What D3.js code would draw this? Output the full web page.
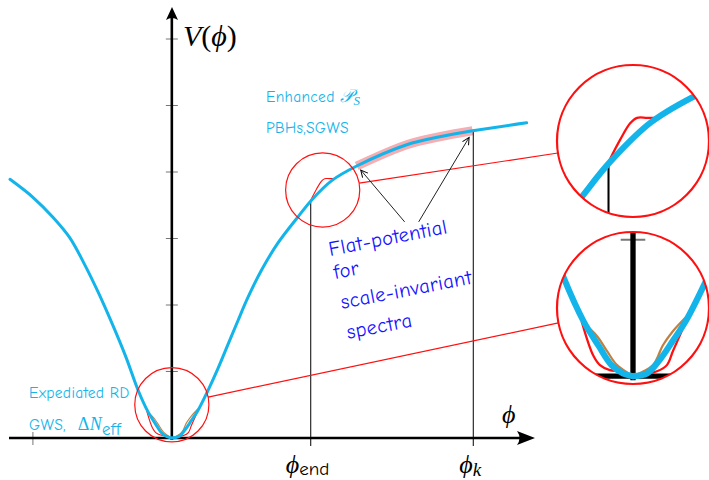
<!DOCTYPE html>
<meta charset="utf-8">
<style>
body { margin: 0; background: #fff; }
svg { display: block; }
.comic { font-family: "Comic Sans MS", "Comic Neue", "Noto Sans", sans-serif; }
.tex { font-family: "Liberation Serif", "DejaVu Serif", serif; }
</style>
<body>
<svg width="709" height="480"></svg>
<script src="https://d3js.org/d3.v7.min.js"></script>
<script>

// potential V(phi) (phi_end = 1, one y tick = 1 unit)
var leftBranch = [[-1.165,3.89],[-1.0,3.62],[-0.856,3.32],[-0.734,3.01],[-0.633,2.63],[-0.532,2.20],
  [-0.432,1.73],[-0.331,1.22],[-0.245,0.73],[-0.173,0.40],[-0.12,0.22],[-0.075,0.08],[-0.035,0.02],[0,0]];
var rightBranch = [[0,0],[0.049,0.02],[0.094,0.12],[0.14,0.26],[0.187,0.41],[0.259,0.71],[0.331,1.04],
  [0.403,1.40],[0.475,1.76],[0.547,2.11],[0.647,2.53],[0.763,2.93],[0.906,3.32],[1.007,3.58],
  [1.151,3.87],[1.331,4.09],[1.691,4.41],[1.928,4.53],[2.165,4.62],[2.554,4.74]];

// deformations near the minimum and near phi_end
var redBump = [[1.0,3.575],[1.041,3.74],[1.076,3.86],[1.10,3.90],[1.135,3.90],[1.165,3.90]];
var brownLeft = [[-0.179,0.40],[-0.126,0.293],[-0.091,0.183],[-0.056,0.081],[0,0]];
var brownRight = [[0,0],[0.07,0.081],[0.105,0.227],[0.14,0.33],[0.189,0.44]];
var redLeft = [[-0.18,0.40],[-0.14,0.153],[-0.116,0.081],[-0.081,0.044],[-0.046,0.036],[0,0]];
var redRight = [[0,0],[0.084,0.036],[0.119,0.081],[0.14,0.183],[0.165,0.301],[0.189,0.42]];

var yTicks = [1, 2, 3, 4, 5, 6];
var phiTicks = [-1];
var phiEnd = 1.0, phiK = 2.17;
var flatRange = [1.33, 2.165];

var flatText = ["Flat-potential", "for", "scale-invariant", "spectra"];

var svg = d3.select("svg");
var x = d3.scaleLinear().domain([-1.165, 2.6]).range([10, 533]);
var y = d3.scaleLinear().domain([0, 6.5]).range([438, 5.75]);

var cyan = "#13b4ea";
var line = d3.line().x(function(d) { return x(d[0]); }).y(function(d) { return y(d[1]); })
    .curve(d3.curveCatmullRom.alpha(0.5));

function vAt(phi) {
  var b = rightBranch;
  for (var i = 1; i < b.length; i++) {
    if (phi <= b[i][0]) {
      var t = (phi - b[i-1][0]) / (b[i][0] - b[i-1][0]);
      return b[i-1][1] + t * (b[i][1] - b[i-1][1]);
    }
  }
  return b[b.length-1][1];
}

// everything that the magnifying insets repeat
function drawScene(g) {
  // phi_end / phi_k drop lines
  [phiEnd, phiK].forEach(function(p) {
    g.append("line").attr("x1", x(p)).attr("x2", x(p))
      .attr("y1", y(vAt(p))).attr("y2", y(0) + 8)
      .attr("stroke", "#000").attr("stroke-width", 1);
  });
  phiTicks.forEach(function(p) {
    g.append("line").attr("x1", x(p)).attr("x2", x(p))
      .attr("y1", y(0) - 6).attr("y2", y(0) + 7)
      .attr("stroke", "#777").attr("stroke-width", 1);
  });
  yTicks.forEach(function(v) {
    g.append("line").attr("x1", x(0) - 6).attr("x2", x(0) + 6)
      .attr("y1", y(v)).attr("y2", y(v))
      .attr("stroke", "#777").attr("stroke-width", 1);
  });
  // axes
  g.append("line").attr("x1", 9).attr("x2", 528).attr("y1", y(0)).attr("y2", y(0))
    .attr("stroke", "#000").attr("stroke-width", 2.6);
  g.append("line").attr("x1", x(0)).attr("x2", x(0)).attr("y1", y(0) + 2).attr("y2", 14)
    .attr("stroke", "#000").attr("stroke-width", 2.6);

  // deformed potentials
  [brownLeft, brownRight].forEach(function(d) {
    g.append("path").attr("d", line(d)).attr("fill", "none")
      .attr("stroke", "#c08040").attr("stroke-width", 1.1);
  });
  [redLeft, redRight, redBump].forEach(function(d) {
    g.append("path").attr("d", line(d)).attr("fill", "none")
      .attr("stroke", "#ff1010").attr("stroke-width", 1.1);
  });
  [leftBranch, rightBranch].forEach(function(d) {
    g.append("path").attr("d", line(d)).attr("fill", "none")
      .attr("stroke", cyan).attr("stroke-width", 3).attr("stroke-linecap", "round");
  });
}

// pink band along the flat part
var flatPts = rightBranch.filter(function(d) { return d[0] >= flatRange[0] && d[0] <= flatRange[1]; });
svg.append("path").attr("d", line(flatPts)).attr("fill", "none")
  .attr("stroke", "#f5aeb2").attr("stroke-width", 9).attr("stroke-linecap", "butt");

drawScene(svg.append("g"));

// axis arrow heads
svg.append("path").attr("d", "M535,438 L517,431 Q522,438 517,445 Z").attr("fill", "#000");
svg.append("path").attr("d", "M172,7 L166,20 Q172,16 178,20 Z").attr("fill", "#000");

// magnifying insets
var zoomK = 2.05, bigR = 76, smallR = bigR / zoomK;
var insets = [
  {phi: 1.086, v: 3.73, cx: 633, cy: 141, a1: -10.7, a2: 170.9},
  {phi: 0, v: 0.5, cx: 633, cy: 308, a1: -11.9, a2: 168.7}
];
var defs = svg.append("defs");
insets.forEach(function(d, i) {
  var sx = x(d.phi), sy = y(d.v);
  defs.append("clipPath").attr("id", "clip" + i)
    .append("circle").attr("cx", d.cx).attr("cy", d.cy).attr("r", bigR);
  var g = svg.append("g").attr("clip-path", "url(#clip" + i + ")")
    .append("g")
    .attr("transform", "translate(" + d.cx + "," + d.cy + ") scale(" + zoomK + ") translate(" + (-sx) + "," + (-sy) + ")");
  drawScene(g);
  svg.append("circle").attr("cx", sx).attr("cy", sy).attr("r", smallR)
    .attr("fill", "none").attr("stroke", "#ff1010").attr("stroke-width", 1.2);
  svg.append("circle").attr("cx", d.cx).attr("cy", d.cy).attr("r", bigR)
    .attr("fill", "none").attr("stroke", "#ff1010").attr("stroke-width", 2.2);
  var r1 = d.a1 * Math.PI / 180, r2 = d.a2 * Math.PI / 180;
  svg.append("line")
    .attr("x1", sx + smallR * Math.cos(r1)).attr("y1", sy + smallR * Math.sin(r1))
    .attr("x2", d.cx + bigR * Math.cos(r2)).attr("y2", d.cy + bigR * Math.sin(r2))
    .attr("stroke", "#ff1010").attr("stroke-width", 1.2);
});

// arrows to the flat part
defs.append("marker").attr("id", "head").attr("viewBox", "-8 -5 10 10")
  .attr("markerWidth", 10).attr("markerHeight", 10).attr("orient", "auto")
  .attr("markerUnits", "userSpaceOnUse")
  .append("path").attr("d", "M-7,-3.5 L0,0 L-7,3.5").attr("fill", "none").attr("stroke", "#000").attr("stroke-width", 1);
var arrows = [[[1.676, 3.25], [1.36, 4.03]], [[1.777, 3.25], [2.14, 4.52]]];
arrows.forEach(function(a) {
  svg.append("line").attr("x1", x(a[0][0])).attr("y1", y(a[0][1]))
    .attr("x2", x(a[1][0])).attr("y2", y(a[1][1]))
    .attr("stroke", "#222").attr("stroke-width", 1).attr("marker-end", "url(#head)");
});

// texts
var vl = svg.append("text").attr("class", "tex").attr("x", 183).attr("y", 46).attr("font-size", 30);
vl.append("tspan").attr("font-style", "italic").text("V");
vl.append("tspan").text("(");
vl.append("tspan").attr("font-style", "italic").text("ϕ");
vl.append("tspan").text(")");

svg.append("text").attr("class", "tex").attr("x", 502).attr("y", 423).attr("font-size", 26)
  .attr("font-style", "italic").text("ϕ");

var pe = svg.append("text").attr("x", x(phiEnd) - 25).attr("y", 473);
pe.append("tspan").attr("class", "tex").attr("font-style", "italic").attr("font-size", 26).text("ϕ");
pe.append("tspan").attr("class", "comic").attr("font-size", 19).attr("dy", 2).text("end");

var pk = svg.append("text").attr("x", x(phiK) - 14).attr("y", 473);
pk.append("tspan").attr("class", "tex").attr("font-style", "italic").attr("font-size", 26).text("ϕ");
pk.append("tspan").attr("class", "tex").attr("font-style", "italic").attr("font-size", 19).attr("dy", 3).text("k");

var cs = 15.5;
var en = svg.append("text").attr("class", "comic").attr("x", 266).attr("y", 102).attr("font-size", cs)
  .attr("letter-spacing", 0.3).attr("fill", cyan);
en.append("tspan").text("Enhanced ");
en.append("tspan").attr("class", "tex").attr("font-style", "italic").attr("font-size", 18).text(" 𝒫");
en.append("tspan").attr("class", "tex").attr("font-style", "italic").attr("font-size", 13).attr("dy", 3).text("S");

svg.append("text").attr("class", "comic").attr("x", 266).attr("y", 133).attr("font-size", cs)
  .attr("letter-spacing", 0.3).attr("fill", cyan).text("PBHs,SGWS");
svg.append("text").attr("class", "comic").attr("x", 29).attr("y", 398).attr("font-size", cs)
  .attr("letter-spacing", 0.3).attr("fill", cyan).text("Expediated  RD");
var gw = svg.append("text").attr("class", "comic").attr("x", 29).attr("y", 430).attr("font-size", cs)
  .attr("letter-spacing", 0.3).attr("fill", cyan);
gw.append("tspan").text("GWS,");
gw.append("tspan").attr("class", "tex").attr("font-size", 18).attr("dx", 12).text("Δ");
gw.append("tspan").attr("class", "tex").attr("font-style", "italic").attr("font-size", 18).text("N");
gw.append("tspan").attr("font-size", 17).attr("dy", 5).text("eff");

var flatPos = [[330, 256], [335, 279], [342, 309], [348, 339]];
flatText.forEach(function(t, i) {
  svg.append("text").attr("class", "comic")
    .attr("transform", "translate(" + flatPos[i][0] + "," + flatPos[i][1] + ") rotate(-11)")
    .attr("font-size", 20.5).attr("letter-spacing", 0.4).attr("fill", "#1414ff").text(t);
});

</script>
</body>
